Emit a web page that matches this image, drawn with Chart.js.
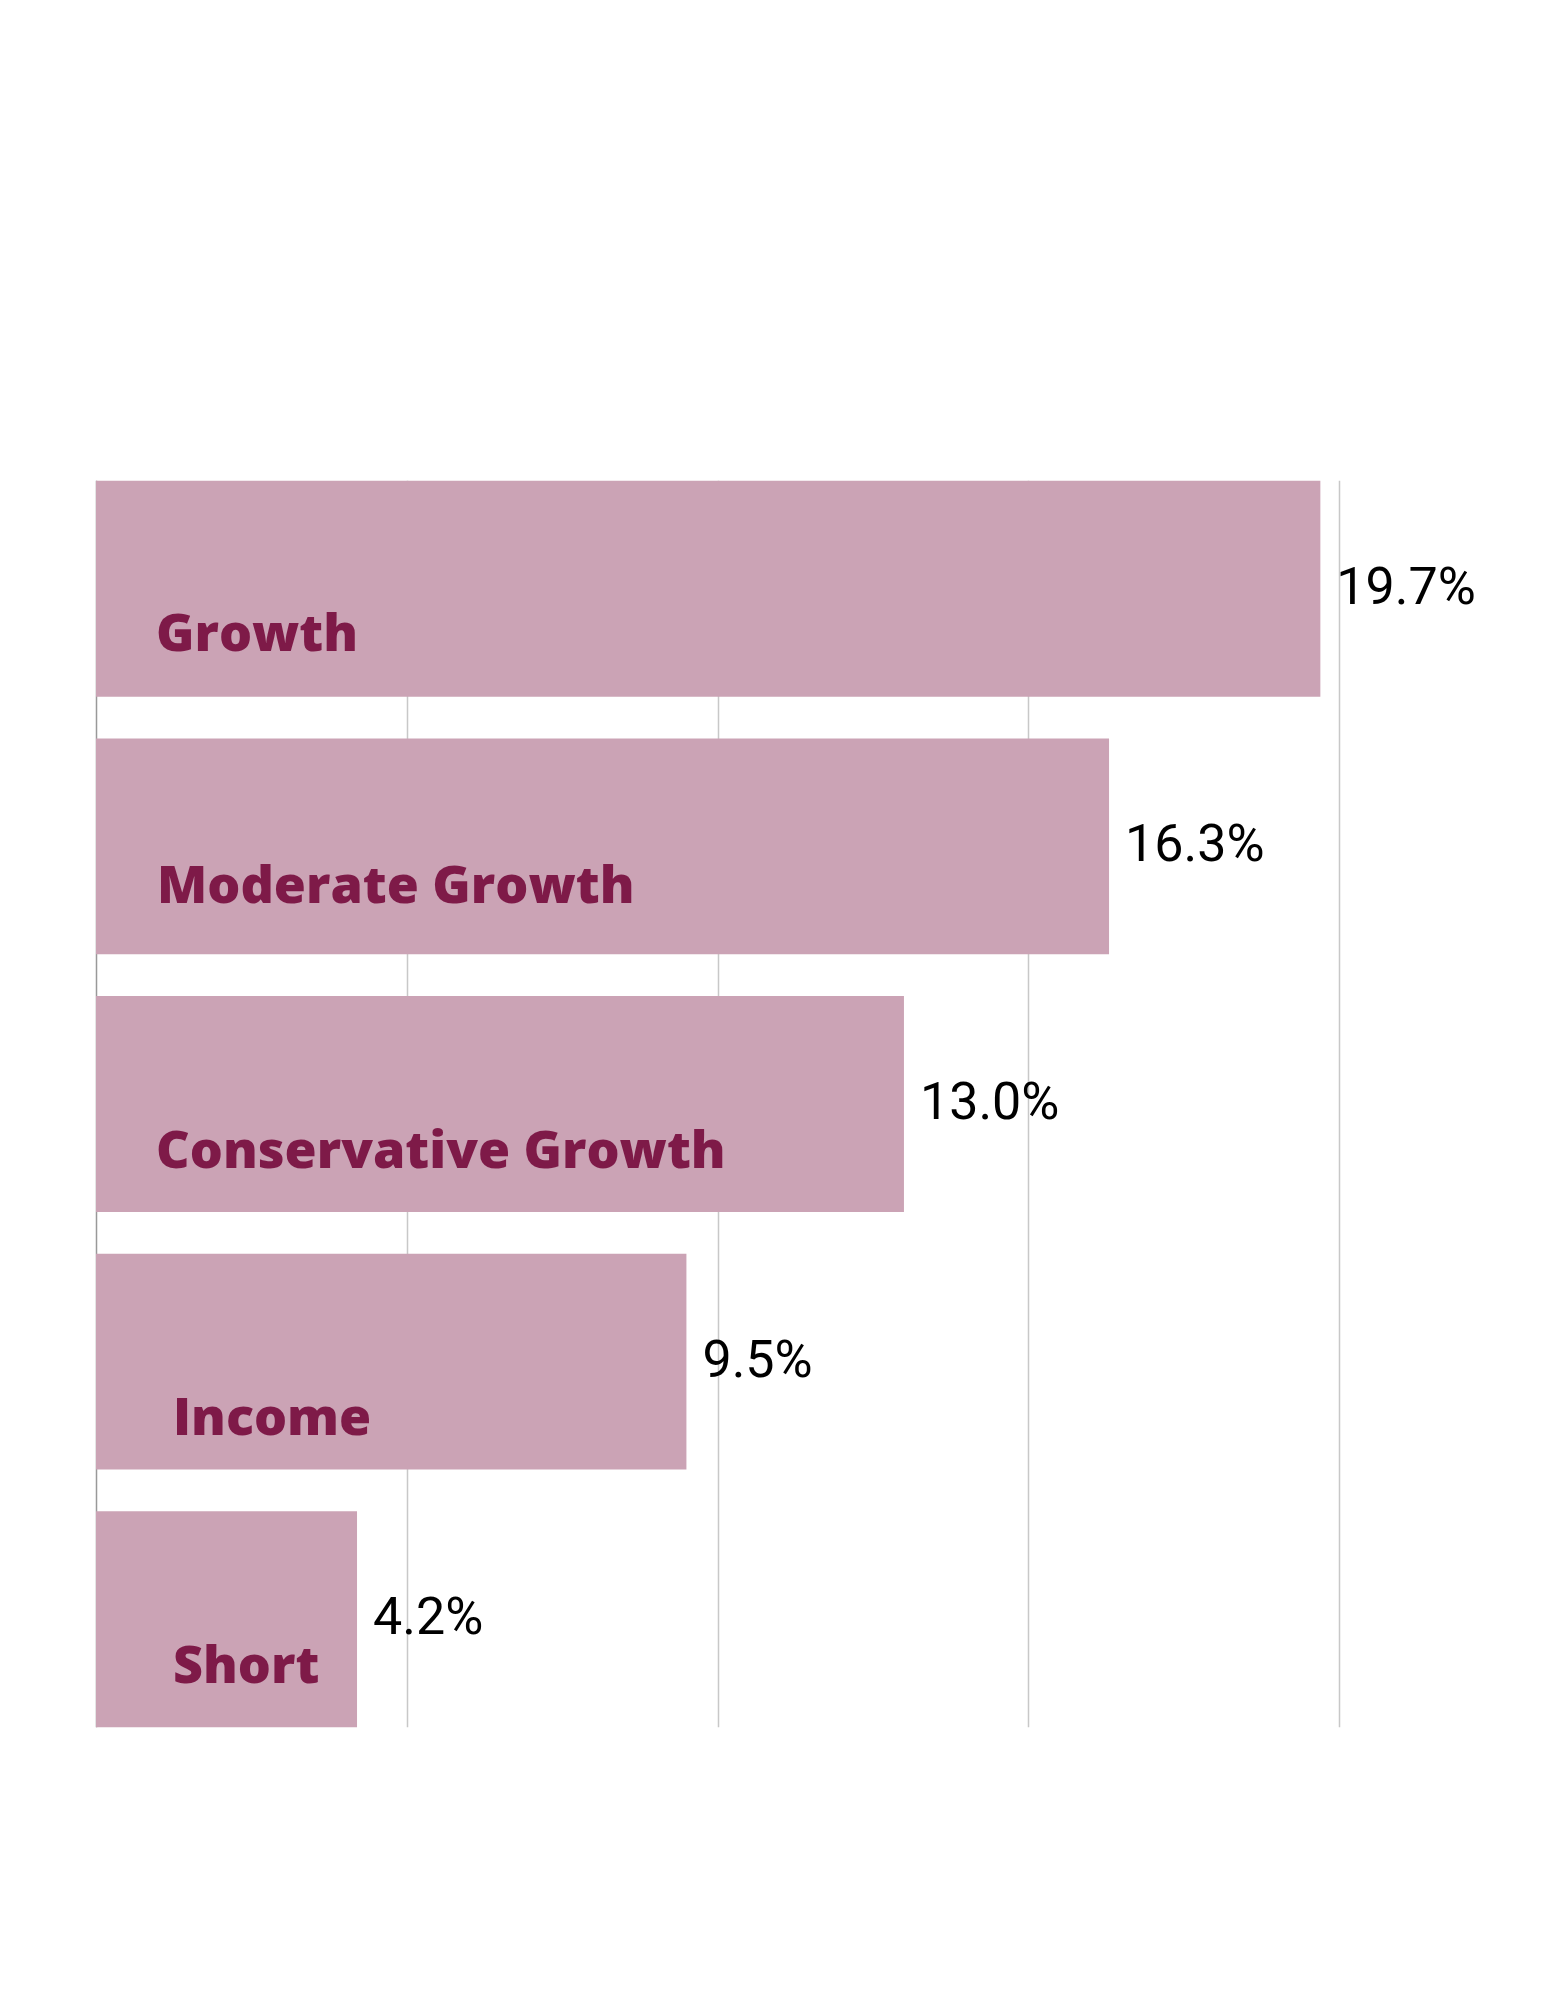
<!DOCTYPE html>
<html>
<head>
<meta charset="utf-8">
<script src="https://cdn.jsdelivr.net/npm/chart.js@4.4.0/dist/chart.umd.min.js"></script>
<style>
  html, body { margin: 0; padding: 0; background: #ffffff; }
  #wrap { position: relative; width: 1545px; height: 1999px; }
</style>
</head>
<body>
<div id="wrap"><canvas id="portfolioChart"></canvas></div>
<script>
// Portfolio categories and their values (percent)
const categories = ['Growth', 'Moderate Growth', 'Conservative Growth', 'Income', 'Short'];
const values = [19.7, 16.3, 13.0, 9.5, 4.2];
const valueLabels = ['19.7%', '16.3%', '13.0%', '9.5%', '4.2%'];

const barColor = '#cba3b5';
const labelColor = '#7e1a48';

// vertical grid lines, only spanning from the first bar's top to the last bar's bottom
const barGrid = {
  id: 'barGrid',
  beforeDatasetsDraw(chart) {
    const ctx = chart.ctx;
    const xScale = chart.scales.x;
    const bars = chart.getDatasetMeta(0).data;
    const top = bars[0].y - bars[0].height / 2;
    const bottom = bars[bars.length - 1].y + bars[bars.length - 1].height / 2;
    ctx.save();
    ctx.lineWidth = 1.5;
    xScale.ticks.forEach(t => {
      const x = Math.round(xScale.getPixelForValue(t.value)) + 0.5;
      ctx.strokeStyle = t.value === 0 ? '#999999' : '#c8c8c8';
      ctx.beginPath();
      ctx.moveTo(x, top);
      ctx.lineTo(x, bottom);
      ctx.stroke();
    });
    ctx.restore();
  }
};

// draws the category names inside the bars and the values past the bar ends
const barLabels = {
  id: 'barLabels',
  afterDatasetsDraw(chart, args, opts) {
    const ctx = chart.ctx;
    const area = chart.chartArea;
    const bars = chart.getDatasetMeta(0).data;
    ctx.save();
    bars.forEach((bar, i) => {
      ctx.fillStyle = labelColor;
      ctx.font = '800 52px "Open Sans"';
      ctx.textAlign = 'left';
      ctx.textBaseline = 'alphabetic';
      ctx.fillText(categories[i], area.left + opts.indent[i], bar.y + opts.drop[i]);

      ctx.fillStyle = '#000000';
      ctx.font = '52px Roboto';
      ctx.textBaseline = 'middle';
      ctx.fillText(valueLabels[i], bar.x + 16, bar.y + 2);
    });
    ctx.restore();
  }
};

new Chart(document.getElementById('portfolioChart'), {
  type: 'bar',
  data: {
    labels: categories,
    datasets: [{
      data: values,
      backgroundColor: barColor,
      borderWidth: 0,
      categoryPercentage: 1,
      barPercentage: 0.838
    }]
  },
  plugins: [barGrid, barLabels],
  options: {
    indexAxis: 'y',
    responsive: true,
    maintainAspectRatio: false,
    devicePixelRatio: 1,
    animation: false,
    layout: { padding: { left: 96, right: 206, top: 460, bottom: 251 } },
    plugins: {
      legend: { display: false },
      tooltip: { enabled: false },
      barLabels: {
        indent: [60, 61, 60, 77, 77],
        drop: [62, 57, 64, 73, 64]
      }
    },
    scales: {
      x: {
        type: 'linear',
        min: 0,
        max: 20,
        display: false,
        ticks: { stepSize: 5 }
      },
      y: {
        type: 'category',
        display: false
      }
    }
  }
});
</script>
</body>
</html>
